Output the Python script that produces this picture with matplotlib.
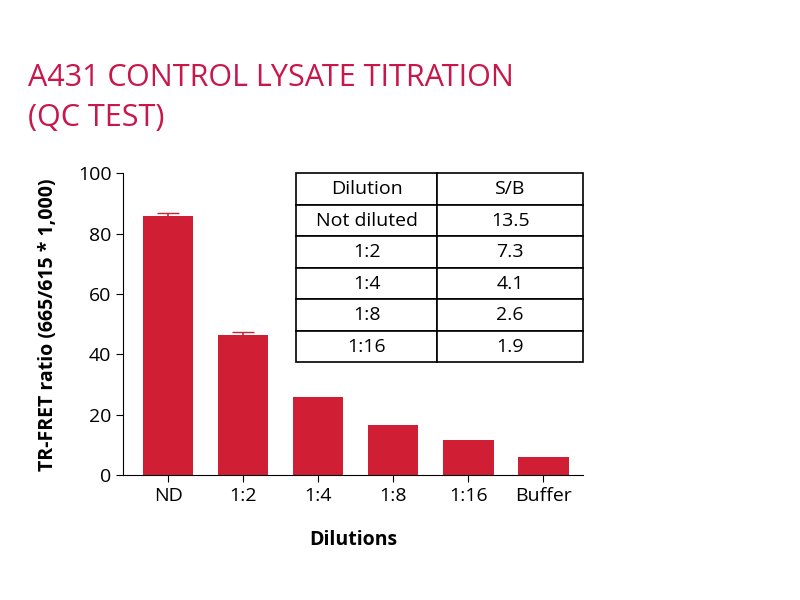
import matplotlib
matplotlib.use("Agg")
import matplotlib.pyplot as plt

plt.rcParams["font.family"] = "Open Sans"

# data
dilutions = ["ND", "1:2", "1:4", "1:8", "1:16", "Buffer"]
ratios = [86, 46.5, 26, 16.5, 11.5, 6]
errors = [1.0, 1.0, 0, 0, 0, 0]
table_header = ["Dilution", "S/B"]
table_dilution = ["Not diluted", "1:2", "1:4", "1:8", "1:16"]
table_sb = ["13.5", "7.3", "4.1", "2.6", "1.9"]

RED = "#d01f35"
TITLE = "#c8174a"

fig = plt.figure(figsize=(8, 6), dpi=100)
ax = fig.add_axes([0.154, 0.208, 0.575, 0.503])

x = list(range(len(dilutions)))
ax.bar(x, ratios, width=0.67, color=RED)
ax.errorbar(x[:2], ratios[:2], yerr=errors[:2], fmt="none", ecolor=RED,
            capsize=8, elinewidth=1.2)

ax.set_xlim(-0.6, 5.53)
ax.set_ylim(0, 100)
ax.set_yticks(range(0, 101, 20))
ax.set_xticks(x)
ax.set_xticklabels(dilutions)
ax.tick_params(labelsize=14, length=5)
for s in ["top", "right"]:
    ax.spines[s].set_visible(False)
ax.set_xlabel("Dilutions", fontsize=14, fontweight="bold", labelpad=18)
ax.set_ylabel("TR-FRET ratio (665/615 * 1,000)", fontsize=14,
              fontweight="bold", labelpad=14)

cells = [[d, s] for d, s in zip(table_dilution, table_sb)]
tbl = ax.table(cellText=cells, colLabels=table_header, cellLoc="center",
               bbox=[(296 - 123) / 460, (475 - 362) / 302, (583 - 296) / 460, (362 - 173) / 302],
               colWidths=[141, 146])
tbl.auto_set_font_size(False)
tbl.set_fontsize(14)
for c in tbl.get_celld().values():
    c.set_linewidth(1.2)

fig.text(0.035, 0.895, "A431 CONTROL LYSATE TITRATION\n(QC TEST)", color=TITLE,
         fontsize=22, va="top", ha="left", linespacing=1.45)

fig.savefig("out.png", dpi=100)
